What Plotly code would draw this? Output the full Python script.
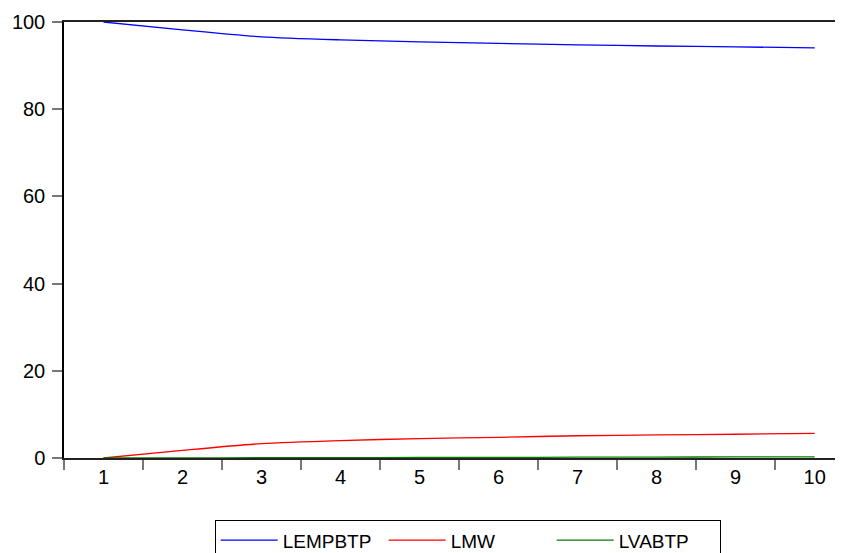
import plotly.graph_objects as go

periods = ["1", "2", "3", "4", "5", "6", "7", "8", "9", "10"]
lempbtp = [100.0, 98.2, 96.6, 95.9, 95.45, 95.1, 94.75, 94.5, 94.3, 94.05]
lmw = [0.0, 1.75, 3.3, 4.0, 4.45, 4.75, 5.1, 5.3, 5.45, 5.65]
lvabtp = [0.0, 0.03, 0.06, 0.09, 0.12, 0.15, 0.18, 0.21, 0.24, 0.28]
y_ticks = [0, 20, 40, 60, 80, 100]

FONT = "Liberation Sans, Arial, sans-serif"

fig = go.Figure()
fig.add_trace(go.Scatter(x=periods, y=lempbtp, name="LEMPBTP", mode="lines",
                         line=dict(color="#0000FF", width=1.3, shape="spline", smoothing=0.7)))
fig.add_trace(go.Scatter(x=periods, y=lmw, name="LMW", mode="lines",
                         line=dict(color="#FF0000", width=1.3, shape="spline", smoothing=0.7)))
fig.add_trace(go.Scatter(x=periods, y=lvabtp, name="LVABTP", mode="lines",
                         line=dict(color="#008000", width=1.3, shape="spline", smoothing=0.7)))

fig.update_layout(
    width=843, height=553,
    margin=dict(l=56, r=0, t=14, b=103, autoexpand=False),
    paper_bgcolor="white", plot_bgcolor="white",
    font=dict(family=FONT, size=20, color="black"),
    showlegend=True,
    legend=dict(orientation="h", x=0.1915, xanchor="left", y=-0.143, yanchor="top",
                bordercolor="black", borderwidth=1, bgcolor="white",
                font=dict(family=FONT, size=19, color="black"),
                itemwidth=57, entrywidth=96, entrywidthmode="pixels",
                tracegroupgap=0),
    xaxis=dict(type="category", range=[-0.5, 9.46], tickson="boundaries",
               ticks="outside", ticklen=10, tickcolor="#777777", tickwidth=1.5,
               showline=True, linecolor="#222222", linewidth=1.5, mirror=True,
               showgrid=False, zeroline=False,
               tickfont=dict(family=FONT, size=20, color="black")),
    yaxis=dict(range=[0, 100], tickvals=y_ticks, ticks="outside", ticklen=10,
               tickcolor="#777777", tickwidth=1.5,
               showline=True, linecolor="black", linewidth=1.5,
               showgrid=False, zeroline=False, ticklabelstandoff=3,
               tickfont=dict(family=FONT, size=20, color="black")),
)

fig.write_html("out.html")
